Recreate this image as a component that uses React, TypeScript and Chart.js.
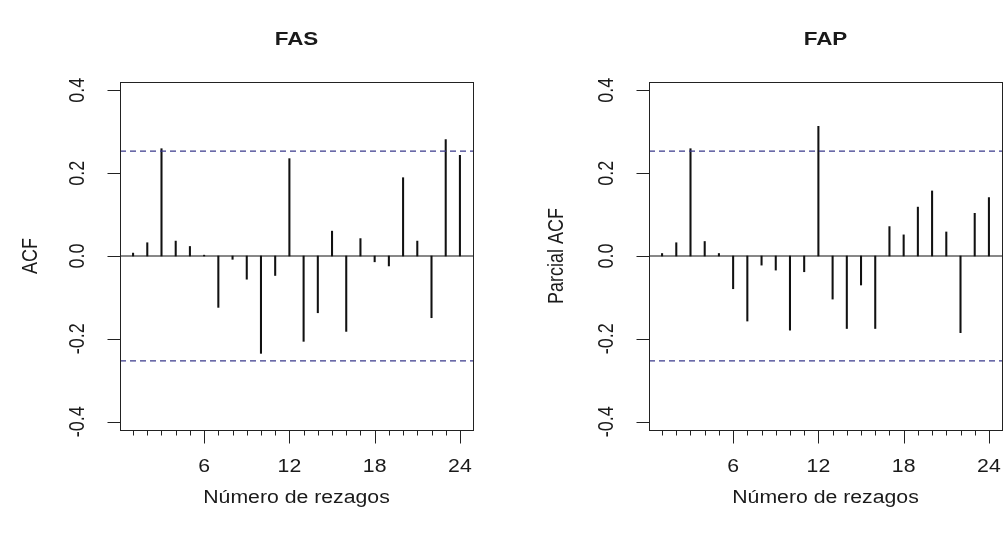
import React, { useEffect, useRef } from "react";
import { Chart, registerables } from "chart.js";

Chart.register(...registerables);

const lags = [1, 2, 3, 4, 5, 6, 7, 8, 9, 10, 11, 12, 13, 14, 15, 16, 17, 18, 19, 20, 21, 22, 23, 24];
const acfValues = [0.007, 0.032, 0.259, 0.036, 0.023, 0.002, -0.124, -0.008, -0.056, -0.235, -0.047, 0.235, -0.206, -0.137, 0.06, -0.182, 0.042, -0.014, -0.024, 0.189, 0.036, -0.149, 0.281, 0.243];
const pacfValues = [0.006, 0.032, 0.259, 0.035, 0.006, -0.079, -0.157, -0.022, -0.034, -0.179, -0.038, 0.313, -0.104, -0.175, -0.07, -0.175, 0.071, 0.051, 0.118, 0.157, 0.058, -0.185, 0.103, 0.141];
const yTicks = [-0.4, -0.2, 0, 0.2, 0.4];
const yTickLabels = ["-0.4", "-0.2", "0.0", "0.2", "0.4"];
const xMajorTicks = [6, 12, 18, 24];
const ciBound = 0.253;
const xLabel = "Número de rezagos";

const FONT = '"Liberation Sans", Arial, sans-serif';
const TEXT = "#1a1a1a";
const SX = 1.18;

function drawText(ctx: CanvasRenderingContext2D, text: string, x: number, y: number, font: string, rotate: boolean) {
  ctx.save();
  ctx.translate(x, y);
  if (rotate) {
    ctx.rotate(-Math.PI / 2);
    ctx.scale(1, SX);
  } else {
    ctx.scale(SX, 1);
  }
  ctx.font = font;
  ctx.fillStyle = TEXT;
  ctx.textAlign = "center";
  ctx.textBaseline = "middle";
  ctx.fillText(text, 0, 0);
  ctx.restore();
}

function makeAxesPlugin(title: string, yTitle: string, yTitleOffset: number) {
  return {
    id: "rAxes",
    afterDraw(chart: any) {
      const ctx = chart.ctx as CanvasRenderingContext2D;
      const a = chart.chartArea;
      const xs = chart.scales.x;
      const ys = chart.scales.y;
      ctx.save();
      ctx.strokeStyle = "#222";
      ctx.lineWidth = 1;
      ctx.strokeRect(Math.round(a.left) + 0.5, Math.round(a.top) + 0.5, Math.round(a.right - a.left), Math.round(a.bottom - a.top));
      // x ticks
      const by = Math.round(a.bottom) + 0.5;
      lags.forEach((l) => {
        const px = Math.round(xs.getPixelForValue(l)) + 0.5;
        const len = xMajorTicks.includes(l) ? 13 : 5;
        ctx.beginPath();
        ctx.moveTo(px, by);
        ctx.lineTo(px, by + len);
        ctx.stroke();
      });
      xMajorTicks.forEach((l) => {
        drawText(ctx, String(l), xs.getPixelForValue(l), a.bottom + 37, `18px ${FONT}`, false);
      });
      // y ticks
      const lx = Math.round(a.left) + 0.5;
      yTicks.forEach((v, i) => {
        const py = Math.round(ys.getPixelForValue(v)) + 0.5;
        ctx.beginPath();
        ctx.moveTo(lx, py);
        ctx.lineTo(lx - 13, py);
        ctx.stroke();
        drawText(ctx, yTickLabels[i], a.left - 42, ys.getPixelForValue(v), `18px ${FONT}`, true);
      });
      const cx = (a.left + a.right) / 2;
      drawText(ctx, xLabel, cx, a.bottom + 68, `18px ${FONT}`, false);
      drawText(ctx, yTitle, a.left - yTitleOffset, (a.top + a.bottom) / 2, `18px ${FONT}`, true);
      drawText(ctx, title, cx, 40, `bold 19px ${FONT}`, false);
      ctx.restore();
    },
  };
}

function buildConfig(values: number[], title: string, yTitle: string, yTitleOffset: number, padLeft: number, padRight: number): any {
  const xMin = 0.08;
  const xMax = 24.92;
  return {
    type: "bar",
    data: {
      datasets: [
        {
          type: "bar",
          data: lags.map((l, i) => ({ x: l, y: values[i] })),
          backgroundColor: "#111",
          barThickness: 1.4,
          order: 2,
        },
        {
          type: "line",
          data: [{ x: xMin, y: 0 }, { x: xMax, y: 0 }],
          borderColor: "#111",
          borderWidth: 1,
          pointRadius: 0,
          order: 1,
        },
        {
          type: "line",
          data: [{ x: xMin, y: ciBound }, { x: xMax, y: ciBound }],
          borderColor: "#3a3a8c",
          borderWidth: 1.3,
          borderDash: [6, 4],
          pointRadius: 0,
          order: 0,
        },
        {
          type: "line",
          data: [{ x: xMin, y: -ciBound }, { x: xMax, y: -ciBound }],
          borderColor: "#3a3a8c",
          borderWidth: 1.3,
          borderDash: [6, 4],
          pointRadius: 0,
          order: 0,
        },
      ],
    },
    options: {
      animation: false,
      responsive: false,
      devicePixelRatio: 1,
      layout: { padding: { left: padLeft, right: padRight, top: 82, bottom: 103 } },
      plugins: { legend: { display: false }, tooltip: { enabled: false }, title: { display: false } },
      scales: {
        x: { type: "linear", min: xMin, max: xMax, offset: false, display: false },
        y: { type: "linear", min: -0.42, max: 0.42, display: false },
      },
    },
    plugins: [makeAxesPlugin(title, yTitle, yTitleOffset)],
  };
}

function Panel(props: { values: number[]; title: string; yTitle: string; yTitleOffset: number; left: number; padLeft: number; padRight: number }) {
  const ref = useRef<HTMLCanvasElement>(null);
  useEffect(() => {
    if (!ref.current) return;
    const chart = new Chart(ref.current, buildConfig(props.values, props.title, props.yTitle, props.yTitleOffset, props.padLeft, props.padRight));
    return () => chart.destroy();
  }, []);
  return (
    <canvas
      ref={ref}
      width={502}
      height={533}
      style={{ position: "absolute", left: props.left, top: 0, width: 502, height: 533 }}
    />
  );
}

export default function App() {
  return (
    <div style={{ position: "absolute", left: 0, top: 0, width: 1004, height: 533, background: "#fff", overflow: "hidden" }}>
      <Panel values={acfValues} title="FAS" yTitle="ACF" yTitleOffset={89} left={0} padLeft={120} padRight={29} />
      <Panel values={pacfValues} title="FAP" yTitle="Parcial ACF" yTitleOffset={92} left={502} padLeft={147} padRight={2} />
    </div>
  );
}
